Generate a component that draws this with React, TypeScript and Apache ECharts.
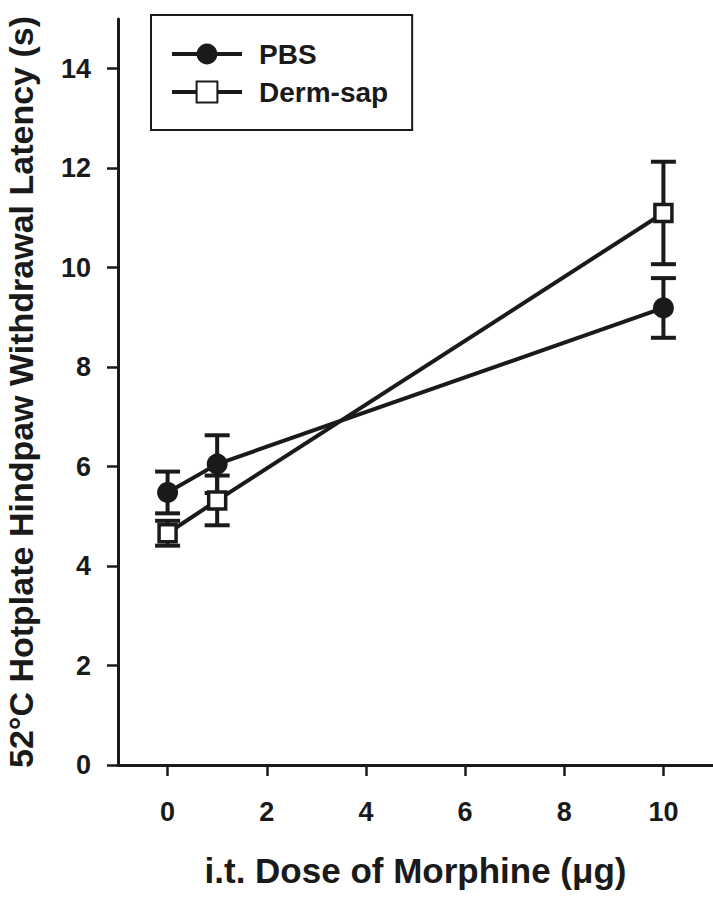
import React, { useEffect, useRef } from "react";
import * as echarts from "echarts";

// ---- data ----
const doses = [0, 1, 10];
const pbsMean = [5.48, 6.05, 9.19];
const pbsErr = [0.42, 0.58, 0.6];
const dermMean = [4.66, 5.32, 11.1];
const dermErr = [0.25, 0.5, 1.03];
const xTicks = [0, 2, 4, 6, 8, 10];
const yTicks = [0, 2, 4, 6, 8, 10, 12, 14];
const seriesNames = ["PBS", "Derm-sap"];
const xTitle = "i.t. Dose of Morphine (\u03bcg)";
const yTitle = "52\u00b0C Hotplate Hindpaw Withdrawal Latency (s)";

const INK = "#1a1a1a";
const FONT = "'Liberation Sans', Arial, Helvetica, sans-serif";

function points(mean: number[]) {
  return doses.map((d, i) => [d, mean[i]]);
}
function errPoints(mean: number[], err: number[]) {
  return doses.map((d, i) => [d, mean[i], err[i]]);
}

function errorBarRender(params: any, api: any) {
  const x = api.value(0);
  const y = api.value(1);
  const e = api.value(2);
  const top = api.coord([x, y + e]);
  const bot = api.coord([x, y - e]);
  const half = 12.5;
  const style = { stroke: INK, lineWidth: 4 };
  return {
    type: "group",
    children: [
      { type: "line", shape: { x1: top[0], y1: top[1], x2: bot[0], y2: bot[1] }, style },
      { type: "line", shape: { x1: top[0] - half, y1: top[1], x2: top[0] + half, y2: top[1] }, style },
      { type: "line", shape: { x1: bot[0] - half, y1: bot[1], x2: bot[0] + half, y2: bot[1] }, style },
    ],
  };
}

export default function App() {
  const ref = useRef<HTMLDivElement>(null);
  useEffect(() => {
    if (!ref.current) return;
    const chart = echarts.init(ref.current, null, { renderer: "svg" });
    const axisText = { color: INK, fontFamily: FONT, fontWeight: "bold" as const };
    chart.setOption({
      animation: false,
      backgroundColor: "#ffffff",
      grid: { left: 118, right: 0, top: 19, bottom: 135, containLabel: false, outerBoundsMode: "none" },
      legend: {
        data: seriesNames,
        orient: "vertical",
        left: 151,
        top: 15,
        padding: [25, 24, 24, 19],
        itemWidth: 70,
        itemHeight: 26,
        itemGap: 10,
        borderColor: INK,
        borderWidth: 2,
        borderRadius: 0,
        lineStyle: { width: 4, color: INK },
        textStyle: { ...axisText, fontSize: 28, padding: [0, 0, 0, 12] },
      },
      xAxis: {
        type: "value",
        min: -1,
        max: 11,
        name: xTitle,
        nameLocation: "middle",
        nameGap: 88,
        nameTextStyle: { ...axisText, fontSize: 35 },
        splitLine: { show: false },
        axisLine: { show: true, onZero: false, lineStyle: { color: INK, width: 3 } },
        axisTick: { show: true, length: 11, customValues: xTicks, lineStyle: { color: INK, width: 2.5 } },
        axisLabel: { ...axisText, fontSize: 27, margin: 33, customValues: xTicks },
      },
      yAxis: {
        type: "value",
        min: 0,
        max: 15,
        name: yTitle,
        nameLocation: "middle",
        nameRotate: 90,
        nameGap: 80,
        nameTextStyle: { ...axisText, fontSize: 34, lineHeight: 34 },
        splitLine: { show: false },
        axisLine: { show: true, onZero: false, lineStyle: { color: INK, width: 3 } },
        axisTick: { show: true, length: 11, customValues: yTicks, lineStyle: { color: INK, width: 2.5 } },
        axisLabel: { ...axisText, fontSize: 27, margin: 27, customValues: yTicks },
      },
      series: [
        {
          name: "PBS error",
          type: "custom",
          renderItem: errorBarRender,
          data: errPoints(pbsMean, pbsErr),
          encode: { x: 0, y: 1 },
          z: 1,
          silent: true,
        },
        {
          name: "Derm-sap error",
          type: "custom",
          renderItem: errorBarRender,
          data: errPoints(dermMean, dermErr),
          encode: { x: 0, y: 1 },
          z: 1,
          silent: true,
        },
        {
          name: seriesNames[0],
          type: "line",
          data: points(pbsMean),
          symbol: "circle",
          symbolSize: 21,
          color: INK,
          itemStyle: { color: INK },
          lineStyle: { color: INK, width: 4 },
          z: 3,
        },
        {
          name: seriesNames[1],
          type: "line",
          data: points(dermMean),
          symbol: "rect",
          symbolSize: 17,
          color: INK,
          itemStyle: { color: "#ffffff", borderColor: INK, borderWidth: 3.5 },
          lineStyle: { color: INK, width: 4 },
          z: 3,
        },
      ],
    });
    return () => chart.dispose();
  }, []);
  return (
    <div
      ref={ref}
      style={{ position: "absolute", left: 0, top: 0, width: 713, height: 900, background: "#fff" }}
    />
  );
}
